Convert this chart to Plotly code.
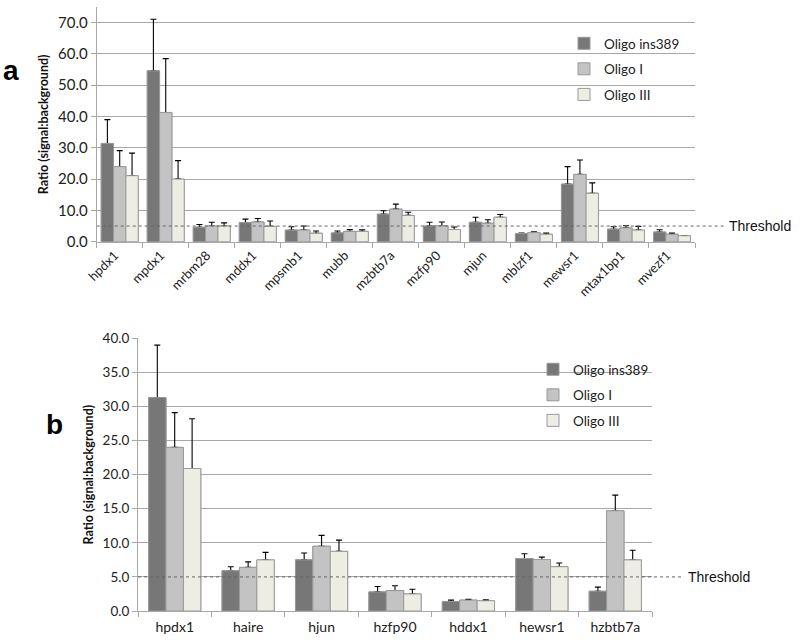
import plotly.graph_objects as go

# ---------------- data ----------------
series_names = ["Oligo ins389", "Oligo I", "Oligo III"]

genes_a = ["hpdx1", "mpdx1", "mrbm28", "mddx1", "mpsmb1", "mubb", "mzbtb7a",
           "mzfp90", "mjun", "mblzf1", "mewsr1", "mtax1bp1", "mvezf1"]
ins389_a = [31.4, 54.6, 4.6, 6.1, 3.7, 2.8, 8.8, 5.0, 6.2, 2.6, 18.4, 4.0, 3.1]
ins389_a_err = [7.6, 16.5, 0.9, 1.1, 1.1, 0.6, 1.1, 1.2, 1.6, 0.2, 5.6, 0.8, 0.7]
oligoI_a = [24.0, 41.3, 5.0, 6.3, 3.7, 3.3, 10.4, 5.1, 5.9, 2.9, 21.5, 4.4, 2.4]
oligoI_a_err = [5.1, 17.2, 1.2, 1.1, 1.3, 0.6, 1.6, 1.2, 1.1, 0.3, 4.6, 0.7, 0.4]
oligoIII_a = [21.1, 20.0, 5.0, 4.9, 2.7, 3.3, 8.4, 3.9, 7.8, 2.4, 15.5, 3.7, 1.9]
oligoIII_a_err = [7.2, 5.9, 1.0, 1.7, 0.7, 0.5, 1.0, 0.8, 0.9, 0.4, 3.3, 1.2, 0.1]

genes_b = ["hpdx1", "haire", "hjun", "hzfp90", "hddx1", "hewsr1", "hzbtb7a"]
ins389_b = [31.3, 5.9, 7.5, 2.8, 1.4, 7.7, 2.9]
ins389_b_err = [7.7, 0.6, 1.0, 0.8, 0.2, 0.7, 0.6]
oligoI_b = [24.0, 6.4, 9.5, 3.0, 1.6, 7.55, 14.7]
oligoI_b_err = [5.1, 0.8, 1.6, 0.7, 0.1, 0.35, 2.3]
oligoIII_b = [20.9, 7.5, 8.75, 2.5, 1.5, 6.5, 7.5]
oligoIII_b_err = [7.3, 1.1, 1.65, 0.7, 0.15, 0.55, 1.4]

threshold = 5.0
threshold_label = "Threshold"
y_title = "Ratio (signal:background)"

# ---------------- style ----------------
colors = ["#777777", "#c3c3c3", "#eeede3"]
outline = "#9a9a9a"
grid = "#a8a8a8"
FONT = "Lato"

fig = go.Figure()

vals_a = [ins389_a, oligoI_a, oligoIII_a]
errs_a = [ins389_a_err, oligoI_a_err, oligoIII_a_err]
vals_b = [ins389_b, oligoI_b, oligoIII_b]
errs_b = [ins389_b_err, oligoI_b_err, oligoIII_b_err]

wa = 0.268
wb = 0.237


def add_panel(genes, vals, errs, w, xa, ya, leg, tag):
    # bars with upward error bars
    for i in range(3):
        fig.add_trace(go.Bar(
            x=genes, y=vals[i], name=series_names[i],
            width=w, offset=(i - 1.5) * w,
            marker=dict(color=colors[i], line=dict(color=outline, width=1)),
            error_y=dict(type="data", symmetric=False, array=errs[i],
                         arrayminus=[0] * len(errs[i]),
                         color="black", thickness=1.1, width=3),
            xaxis=xa, yaxis=ya, legend=leg, legendgroup="%s%d" % (tag, i),
        ))
    # same bars redrawn on top (no error bars) so only the upper whisker shows
    for i in range(3):
        fig.add_trace(go.Bar(
            x=genes, y=vals[i], name=series_names[i],
            width=w, offset=(i - 1.5) * w,
            marker=dict(color=colors[i], line=dict(color=outline, width=1)),
            xaxis=xa, yaxis=ya, legend=leg, legendgroup="%s%d" % (tag, i),
            showlegend=False, hoverinfo="skip",
        ))


add_panel(genes_a, vals_a, errs_a, wa, "x", "y", "legend", "a")
add_panel(genes_b, vals_b, errs_b, wb, "x2", "y2", "legend2", "b")

W, H = 800, 644
ax_common = dict(showline=True, linecolor=grid, linewidth=1, automargin=False)

fig.update_layout(
    template="none",
    width=W, height=H,
    margin=dict(l=0, r=0, t=0, b=0, pad=0),
    paper_bgcolor="white", plot_bgcolor="white",
    font=dict(family=FONT, color="#222222", size=13),
    barmode="group",
    xaxis=dict(domain=[96.7 / W, 695 / W], anchor="y", type="category",
               ticks="outside", tickson="boundaries", ticklen=5, tickcolor=grid,
               tickangle=-45, tickfont=dict(size=13, family=FONT),
               ticklabelshift=-5,
               showgrid=False, zeroline=False,
               range=[-0.5, len(genes_a) - 0.5], **ax_common),
    yaxis=dict(domain=[1 - 241.7 / H, 1 - 7 / H], anchor="x",
               range=[0, 75], tickvals=[0, 10, 20, 30, 40, 50, 60, 70],
               tickformat=".1f", ticks="outside", ticklen=5, tickcolor=grid,
               showgrid=True, gridcolor=grid, gridwidth=1, zeroline=False,
               tickfont=dict(size=15, family=FONT),
               title=dict(text=y_title, standoff=6,
                          font=dict(size=12.5, family=FONT, weight="bold", color="#111111")),
               **ax_common),
    xaxis2=dict(domain=[138 / W, 652 / W], anchor="y2", type="category",
                ticks="outside", tickson="boundaries", ticklen=5, tickcolor=grid,
                tickfont=dict(size=14, family=FONT), ticklabelstandoff=3,
                showgrid=False, zeroline=False,
                range=[-0.5, len(genes_b) - 0.5], **ax_common),
    yaxis2=dict(domain=[1 - 611 / H, 1 - 338.3 / H], anchor="x2",
                range=[0, 40], dtick=5, tickformat=".1f",
                ticks="outside", ticklen=5, tickcolor=grid,
                showgrid=True, gridcolor=grid, gridwidth=1, zeroline=False,
                tickfont=dict(size=13.5, family=FONT),
                title=dict(text=y_title, standoff=6,
                           font=dict(size=12.5, family=FONT, weight="bold", color="#111111")),
                **ax_common),
    legend=dict(x=564 / W, y=1 - 28 / H, xanchor="left", yanchor="top",
                bgcolor="rgba(0,0,0,0)", font=dict(size=13.5, family=FONT),
                traceorder="grouped", tracegroupgap=5, itemclick=False),
    legend2=dict(x=533 / W, y=1 - 354 / H, xanchor="left", yanchor="top",
                 bgcolor="rgba(0,0,0,0)", font=dict(size=13.5, family=FONT),
                 traceorder="grouped", tracegroupgap=5, itemclick=False),
    showlegend=True,
)

# white panels behind the legends (cover gridlines, not bars)
fig.add_shape(type="rect", xref="paper", yref="paper", layer="between",
              x0=568 / W, x1=697 / W, y0=1 - 105 / H, y1=1 - 30 / H,
              fillcolor="white", line=dict(width=0))
fig.add_shape(type="rect", xref="paper", yref="paper", layer="between",
              x0=541 / W, x1=654 / W, y0=1 - 432 / H, y1=1 - 350 / H,
              fillcolor="white", line=dict(width=0))

# threshold lines
fig.add_shape(type="line", xref="paper", yref="y", x0=96.7 / W, x1=725 / W,
              y0=threshold, y1=threshold, line=dict(color="#666666", width=1, dash="dot"))
fig.add_shape(type="line", xref="paper", yref="y2", x0=138 / W, x1=683 / W,
              y0=threshold, y1=threshold, line=dict(color="#666666", width=1, dash="dot"))

fig.add_annotation(text=threshold_label, xref="paper", yref="y", x=727 / W, y=threshold,
                   xanchor="left", yanchor="middle", showarrow=False,
                   font=dict(family="Liberation Sans", size=14, color="#111111"))
fig.add_annotation(text=threshold_label, xref="paper", yref="y2", x=686 / W, y=threshold,
                   xanchor="left", yanchor="middle", showarrow=False,
                   font=dict(family="Liberation Sans", size=14, color="#111111"))

# panel letters
fig.add_annotation(text="<b>a</b>", xref="paper", yref="paper", x=11 / W, y=1 - 70 / H,
                   xanchor="center", yanchor="middle", showarrow=False,
                   font=dict(family="Liberation Sans", size=28, color="black"))
fig.add_annotation(text="<b>b</b>", xref="paper", yref="paper", x=54 / W, y=1 - 424 / H,
                   xanchor="center", yanchor="middle", showarrow=False,
                   font=dict(family="Liberation Sans", size=28, color="black"))

fig.write_html("out.html", config={"displayModeBar": False},
               post_script="document.body.style.margin='0';document.body.style.overflow='hidden';")
